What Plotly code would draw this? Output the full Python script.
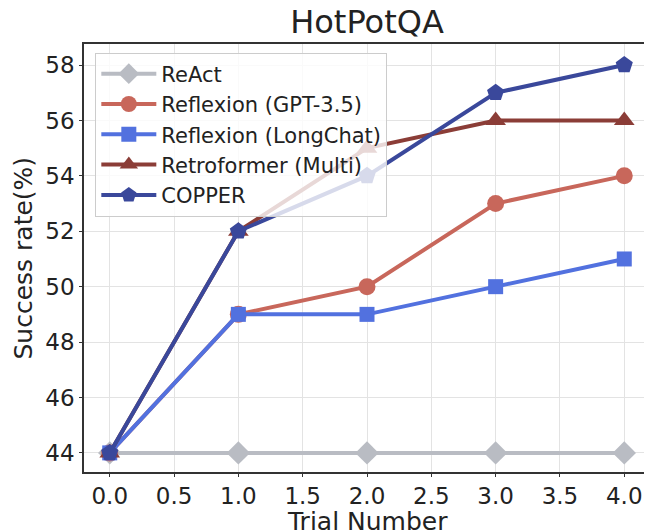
import plotly.graph_objects as go

trials = [0, 1, 2, 3, 4]
react = [44, 44, 44, 44, 44]
reflexion_gpt = [44, 49, 50, 53, 54]
reflexion_longchat = [44, 49, 49, 50, 51]
retroformer = [44, 52, 55, 56, 56]
copper = [44, 52, 54, 57, 58]

series = [
    ("ReAct", react, "#b9bcc3", "diamond", 18),
    ("Reflexion (GPT-3.5)", reflexion_gpt, "#c8675b", "circle", 17),
    ("Reflexion (LongChat)", reflexion_longchat, "#5271df", "square", 15),
    ("Retroformer (Multi)", retroformer, "#8b3d37", "triangle-up", 18),
    ("COPPER", copper, "#3a489b", "pentagon", 18),
]

fig = go.Figure()
for name, vals, col, sym, sz in series:
    fig.add_trace(go.Scatter(
        x=trials, y=vals, name=name, mode="lines+markers",
        line=dict(color=col, width=4),
        marker=dict(symbol=sym, size=sz, color=col),
    ))

axis_common = dict(
    showline=True, linecolor="#333333", linewidth=1.5, mirror=True,
    showgrid=True, gridcolor="#e3e3e3", gridwidth=1,
    ticks="outside", ticklen=3, tickcolor="#333333",
    tickfont=dict(size=23, color="#222222"),
    zeroline=False, automargin=False,
)

fig.update_layout(
    width=652, height=532,
    margin=dict(l=76, r=10, t=36, b=68),
    paper_bgcolor="white", plot_bgcolor="white",
    font=dict(family="DejaVu Sans", color="#222222"),
    title=dict(text="HotPotQA", xref="paper", x=0.5, xanchor="center",
               yref="container", y=1, yanchor="top", pad=dict(t=3),
               font=dict(size=32, color="#222222")),
    xaxis=dict(range=[-0.2, 4.2], tickvals=[0, 0.5, 1, 1.5, 2, 2.5, 3, 3.5, 4],
               ticktext=["0.0", "0.5", "1.0", "1.5", "2.0", "2.5", "3.0", "3.5", "4.0"],
               **axis_common),
    yaxis=dict(range=[43.31, 58.76], tickvals=[44, 46, 48, 50, 52, 54, 56, 58],
               **axis_common),
    legend=dict(x=0.02, y=0.98, xanchor="left", yanchor="top",
                bgcolor="rgba(255,255,255,0.8)", bordercolor="#cccccc", borderwidth=1,
                font=dict(size=21, color="#222222"), itemwidth=55,
                tracegroupgap=0),
    showlegend=True,
    annotations=[
        dict(text="Trial Number", xref="paper", yref="paper", x=0.5, y=0,
             xanchor="center", yanchor="top", yshift=-33, showarrow=False,
             font=dict(size=25, color="#222222")),
        dict(text="Success rate(%)", xref="paper", yref="paper", x=0, y=0.5,
             xanchor="right", yanchor="middle", xshift=-45, textangle=-90,
             showarrow=False, font=dict(size=25, color="#222222")),
    ],
)

fig.write_html("out.html")
